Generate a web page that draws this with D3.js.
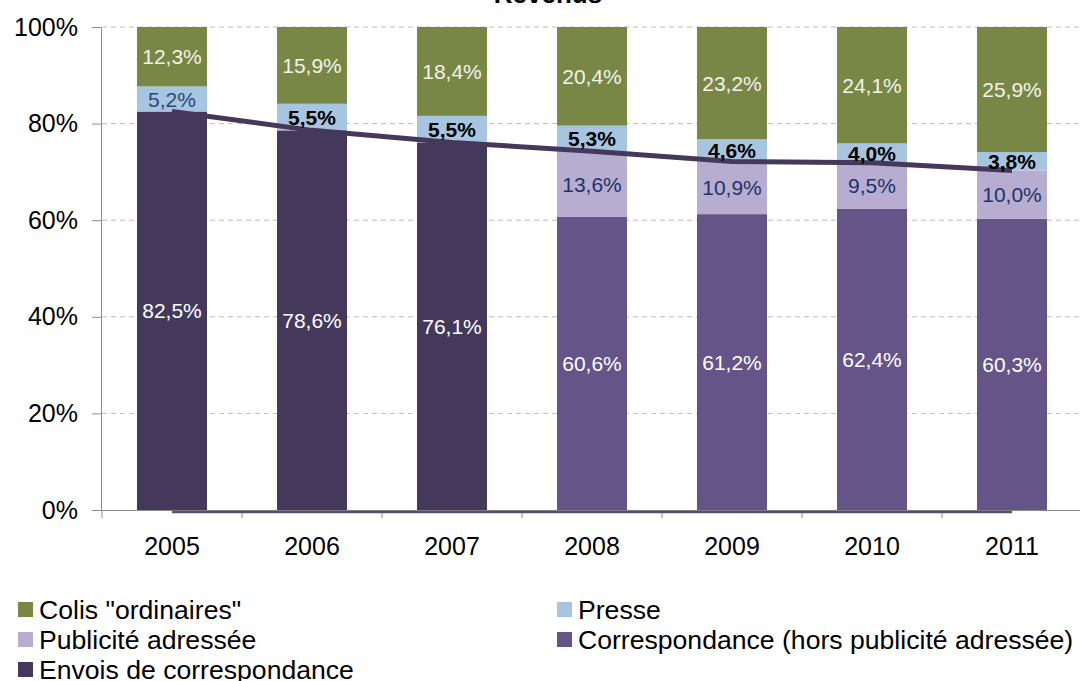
<!DOCTYPE html>
<html>
<head>
<meta charset="utf-8">
<script src="https://cdn.jsdelivr.net/npm/d3@7"></script>
<style>
  html, body { margin: 0; padding: 0; background: #fff; }
  svg { display: block; font-family: "Liberation Sans", Arial, sans-serif; }
</style>
</head>
<body>
<svg id="chart" width="1080" height="681"></svg>
<script>
// Revenue split by product line, 2005–2011 (100% stacked)
const years = ['2005', '2006', '2007', '2008', '2009', '2010', '2011'];
const colis = [12.3, 15.9, 18.4, 20.4, 23.2, 24.1, 25.9];
const presse = [5.2, 5.5, 5.5, 5.3, 4.6, 4.0, 3.8];
const publicite = [null, null, null, 13.6, 10.9, 9.5, 10.0];
const correspondance = [null, null, null, 60.6, 61.2, 62.4, 60.3];
const envois = [82.5, 78.6, 76.1, null, null, null, null];
const yTicks = [0, 20, 40, 60, 80, 100];

const series = [
  { key: 'envois', name: 'Envois de correspondance', values: envois, fill: '#45395b', label: '#ffffff', weight: 'normal' },
  { key: 'correspondance', name: 'Correspondance (hors publicité adressée)', values: correspondance, fill: '#655487', label: '#ffffff', weight: 'normal' },
  { key: 'publicite', name: 'Publicité adressée', values: publicite, fill: '#b7add0', label: '#1f326c', weight: 'normal' },
  { key: 'presse', name: 'Presse', values: presse, fill: '#a7c4e0', label: '#000000', weight: 'bold' },
  { key: 'colis', name: 'Colis "ordinaires"', values: colis, fill: '#788745', label: '#f3f3e8', weight: 'normal' }
];
// the 2005 press label is set plain and blue
const plainPresse = new Set(['2005']);

const fmt = v => d3.format('.1f')(v).replace('.', ',') + '%';

const svg = d3.select('#chart');
const x = d3.scaleBand().domain(years).range([102, 1082]).paddingInner(0.5).paddingOuter(0.25);
const y = d3.scaleLinear().domain([0, 100]).range([510, 27]);

// stacked segments, normalised to each year's total
const segments = [];
const totals = years.map((_, i) => d3.sum(series, s => s.values[i] || 0));
years.forEach((yr, i) => {
  let acc = 0;
  series.forEach(s => {
    const v = s.values[i];
    if (v == null) return;
    const y0 = acc / totals[i] * 100;
    acc += v;
    const y1 = acc / totals[i] * 100;
    segments.push({ year: yr, s, v, y0, y1 });
  });
});

// gridlines
svg.append('g').selectAll('line').data(yTicks.filter(t => t > 0)).join('line')
  .attr('x1', 102).attr('x2', 1080)
  .attr('y1', d => y(d)).attr('y2', d => y(d))
  .attr('stroke', '#bdbdbd').attr('stroke-width', 1).attr('stroke-dasharray', '5,4');

// y axis
const yAxis = svg.append('g').attr('transform', 'translate(101,0)')
  .call(d3.axisLeft(y).tickValues(yTicks).tickFormat(d => d + '%').tickSize(9).tickPadding(14));
yAxis.select('.domain').attr('stroke', '#8c8c8c');
yAxis.selectAll('.tick line').attr('stroke', '#8c8c8c');
yAxis.selectAll('.tick text').attr('font-size', 25).attr('fill', '#000').attr('font-family', '"Liberation Sans", Arial, sans-serif');

// bars
svg.append('g').selectAll('rect').data(segments).join('rect')
  .attr('x', d => x(d.year)).attr('width', x.bandwidth())
  .attr('y', d => y(d.y1)).attr('height', d => y(d.y0) - y(d.y1))
  .attr('fill', d => d.s.fill);

// x axis
const xAxisG = svg.append('g');
xAxisG.append('line').attr('x1', 101).attr('x2', 1080).attr('y1', 510.5).attr('y2', 510.5).attr('stroke', '#8c8c8c');
const bounds = years.map(yr => x(yr) - x.step() * x.paddingInner() / 2);
xAxisG.selectAll('line.tk').data(bounds).join('line').attr('class', 'tk')
  .attr('x1', d => d).attr('x2', d => d).attr('y1', 510).attr('y2', 518)
  .attr('stroke', '#8c8c8c');
xAxisG.selectAll('text').data(years).join('text')
  .attr('x', d => x(d) + x.bandwidth() / 2).attr('y', 555)
  .attr('text-anchor', 'middle').attr('font-size', 25).attr('fill', '#000')
  .text(d => d);

// baseline trace along 0%
const zeroLine = d3.line().x(d => x(d) + x.bandwidth() / 2).y(() => y(0) + 2);
svg.append('path').datum(years).attr('d', zeroLine)
  .attr('fill', 'none').attr('stroke', '#5a4d73').attr('stroke-width', 2.5);

// letters + addressed advertising combined share
const mailShare = years.map((yr, i) => {
  const v = envois[i] != null ? envois[i] : correspondance[i] + publicite[i];
  return { year: yr, v: v / totals[i] * 100 };
});
const line = d3.line().x(d => x(d.year) + x.bandwidth() / 2).y(d => y(d.v));
svg.append('path').datum(mailShare).attr('d', line)
  .attr('fill', 'none').attr('stroke', '#45395b').attr('stroke-width', 5);

// segment labels
svg.append('g').selectAll('text').data(segments).join('text')
  .attr('x', d => x(d.year) + x.bandwidth() / 2)
  .attr('y', d => y((d.y0 + d.y1) / 2))
  .attr('dy', '0.36em')
  .attr('text-anchor', 'middle')
  .attr('font-size', 21)
  .attr('fill', d => (d.s.key === 'presse' && plainPresse.has(d.year)) ? '#2a4878' : d.s.label)
  .attr('font-weight', d => (d.s.key === 'presse' && plainPresse.has(d.year)) ? 'normal' : d.s.weight)
  .text(d => fmt(d.v));

// title (partly above the frame)
svg.append('text').attr('x', 548).attr('y', 3).attr('text-anchor', 'middle')
  .attr('font-size', 26).attr('font-weight', 'bold').attr('fill', '#000').text('Revenus');

// legend
const legendItems = [
  { s: series[4], col: 0, row: 0 },
  { s: series[3], col: 1, row: 0 },
  { s: series[2], col: 0, row: 1 },
  { s: series[1], col: 1, row: 1 },
  { s: series[0], col: 0, row: 2 }
];
const lg = svg.append('g').selectAll('g').data(legendItems).join('g')
  .attr('transform', d => `translate(${d.col ? 557 : 18},${609 + d.row * 30})`);
lg.append('rect').attr('x', 0).attr('y', -7).attr('width', 15).attr('height', 15).attr('fill', d => d.s.fill);
lg.append('text').attr('x', 21).attr('y', 0).attr('dy', '0.36em')
  .attr('font-size', 26.6).attr('fill', '#000').text(d => d.s.name);
</script>
</body>
</html>
